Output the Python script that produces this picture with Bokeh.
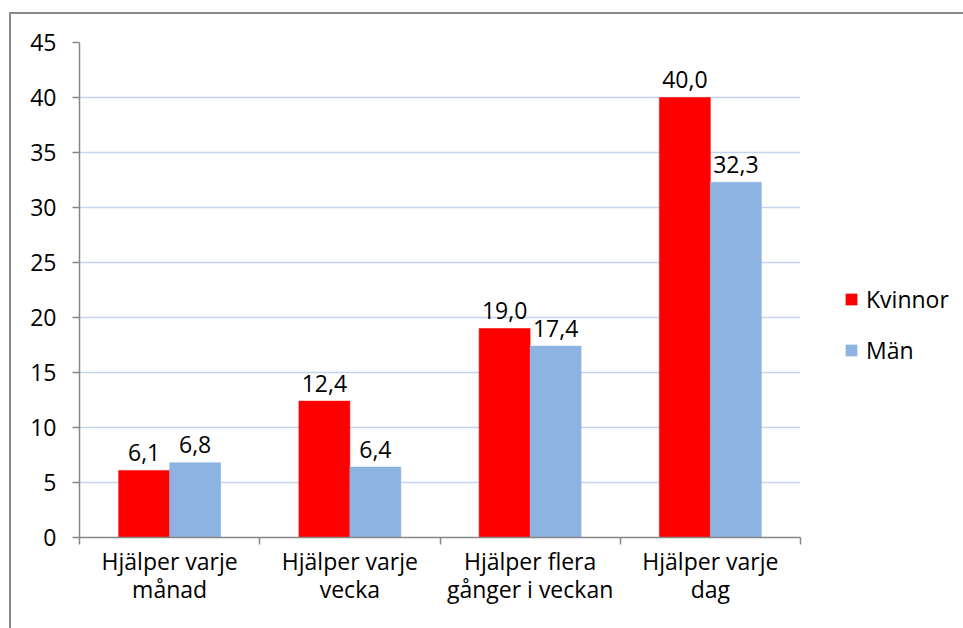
from bokeh.plotting import figure
from bokeh.models import (ColumnDataSource, Range1d, FixedTicker, LinearAxis,
                          Legend, LegendItem, Grid)
from bokeh.core.properties import value
from bokeh.embed import file_html
from bokeh.resources import INLINE

# Data
categories = ["Hjälper varje\nmånad", "Hjälper varje\nvecka",
              "Hjälper flera\ngånger i veckan", "Hjälper varje\ndag"]
kvinnor = [6.1, 12.4, 19.0, 40.0]
man = [6.8, 6.4, 17.4, 32.3]
series_names = ["Kvinnor", "Män"]
y_ticks = [0, 5, 10, 15, 20, 25, 30, 35, 40, 45]

FONT = "Open Sans"
FS = "23px"
RED = "#FF0000"
BLUE = "#8DB3E2"
AXIS = "#868686"
GRID = "#C3D5EC"

BAR_W = 0.283
n = len(categories)
centers = [i + 0.5 for i in range(n)]

def fmt(v):
    return f"{v:.1f}".replace(".", ",")

src_k = ColumnDataSource(dict(x=[c - BAR_W / 2 for c in centers], top=kvinnor,
                              label=[fmt(v) for v in kvinnor]))
src_m = ColumnDataSource(dict(x=[c + BAR_W / 2 for c in centers], top=man,
                              label=[fmt(v) for v in man]))

p = figure(frame_width=721, frame_height=495,
           min_border_left=68, min_border_right=163,
           min_border_top=28, min_border_bottom=91,
           x_range=Range1d(0, n), y_range=Range1d(0, 45),
           output_backend="svg", toolbar_location=None,
           x_axis_type=None, y_axis_type=None)
p.outline_line_color = None
p.background_fill_color = "white"
p.border_fill_color = "white"
p.styles = {"margin-left": "9px", "margin-top": "12px",
            "border-left": "2px solid #8A8A8A", "border-top": "2px solid #8A8A8A"}

# y axis
yaxis = LinearAxis(ticker=FixedTicker(ticks=y_ticks))
yaxis.axis_line_color = AXIS
yaxis.axis_line_width = 1.5
yaxis.major_tick_line_color = AXIS
yaxis.major_tick_line_width = 1.5
yaxis.major_tick_out = 7
yaxis.major_tick_in = 0
yaxis.minor_tick_line_color = None
yaxis.major_label_standoff = 16
yaxis.major_label_text_font = FONT
yaxis.major_label_text_font_size = FS
yaxis.major_label_text_color = "black"
p.add_layout(yaxis, "left")

# x axis: boundary ticks between categories
bounds = list(range(n + 1))
xaxis = LinearAxis(ticker=FixedTicker(ticks=bounds))
xaxis.major_label_overrides = {b: "" for b in bounds}
xaxis.axis_line_color = AXIS
xaxis.axis_line_width = 1.5
xaxis.major_tick_line_color = AXIS
xaxis.major_tick_line_width = 1.5
xaxis.major_tick_out = 7
xaxis.major_tick_in = 0
xaxis.minor_tick_line_color = None
xaxis.major_label_standoff = 0
p.add_layout(xaxis, "below")

# x axis: category labels at group centres
laxis = LinearAxis(ticker=FixedTicker(ticks=centers))
laxis.major_label_overrides = {c: lab for c, lab in zip(centers, categories)}
laxis.axis_line_color = None
laxis.major_tick_line_color = None
laxis.major_tick_out = 0
laxis.major_tick_in = 0
laxis.minor_tick_line_color = None
laxis.major_label_standoff = 0
laxis.major_label_text_font = FONT
laxis.major_label_text_font_size = FS
laxis.major_label_text_color = "black"
laxis.major_label_text_line_height = 0.9
p.add_layout(laxis, "below")

# horizontal gridlines
grid = Grid(dimension=1, ticker=FixedTicker(ticks=y_ticks[1:]),
            grid_line_color=GRID, grid_line_width=1.5)
p.add_layout(grid)

rk = p.vbar(x="x", top="top", width=BAR_W, source=src_k,
            fill_color=RED, line_color=RED, line_width=0.5)
rm = p.vbar(x="x", top="top", width=BAR_W, source=src_m,
            fill_color=BLUE, line_color=BLUE, line_width=0.5)

for src in (src_k, src_m):
    p.text(x="x", y="top", text="label", source=src,
           text_font=value(FONT), text_font_size=FS, text_color="black",
           text_align="center", text_baseline="alphabetic", y_offset=-18)

legend = Legend(items=[LegendItem(label=series_names[0], renderers=[rk]),
                       LegendItem(label=series_names[1], renderers=[rm])],
                location=(44, 171), orientation="vertical")
legend.glyph_width = 14
legend.glyph_height = 14
legend.label_standoff = 8
legend.spacing = 19
legend.padding = 0
legend.margin = 0
legend.border_line_color = None
legend.background_fill_alpha = 0
legend.label_text_font = FONT
legend.label_text_font_size = FS
legend.label_text_color = "black"
p.add_layout(legend, "right")

open("out.html", "w").write(file_html(p, INLINE))
